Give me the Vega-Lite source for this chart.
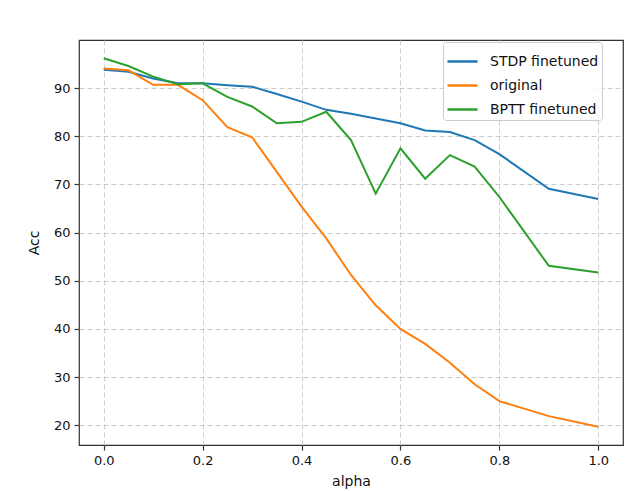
{
  "$schema": "https://vega.github.io/schema/vega-lite/v6.json",
  "autosize": "none",
  "width": 544,
  "height": 405,
  "padding": {"left": 79, "top": 40, "right": 18, "bottom": 46},
  "background": "white",
  "data": {
    "values": [
      {"alpha": 0.0, "series": "STDP finetuned", "acc": 93.8},
      {"alpha": 0.05, "series": "STDP finetuned", "acc": 93.4},
      {"alpha": 0.1, "series": "STDP finetuned", "acc": 92.0},
      {"alpha": 0.15, "series": "STDP finetuned", "acc": 91.0},
      {"alpha": 0.2, "series": "STDP finetuned", "acc": 91.0},
      {"alpha": 0.25, "series": "STDP finetuned", "acc": 90.6},
      {"alpha": 0.3, "series": "STDP finetuned", "acc": 90.3},
      {"alpha": 0.35, "series": "STDP finetuned", "acc": 88.8},
      {"alpha": 0.4, "series": "STDP finetuned", "acc": 87.2},
      {"alpha": 0.45, "series": "STDP finetuned", "acc": 85.5},
      {"alpha": 0.5, "series": "STDP finetuned", "acc": 84.7},
      {"alpha": 0.55, "series": "STDP finetuned", "acc": 83.7},
      {"alpha": 0.6, "series": "STDP finetuned", "acc": 82.7},
      {"alpha": 0.65, "series": "STDP finetuned", "acc": 81.2},
      {"alpha": 0.7, "series": "STDP finetuned", "acc": 80.9},
      {"alpha": 0.75, "series": "STDP finetuned", "acc": 79.2},
      {"alpha": 0.8, "series": "STDP finetuned", "acc": 76.3},
      {"alpha": 0.9, "series": "STDP finetuned", "acc": 69.1},
      {"alpha": 1.0, "series": "STDP finetuned", "acc": 67.0},
      {"alpha": 0.0, "series": "original", "acc": 94.1},
      {"alpha": 0.05, "series": "original", "acc": 93.7},
      {"alpha": 0.1, "series": "original", "acc": 90.7},
      {"alpha": 0.15, "series": "original", "acc": 90.7},
      {"alpha": 0.2, "series": "original", "acc": 87.5},
      {"alpha": 0.25, "series": "original", "acc": 81.9},
      {"alpha": 0.3, "series": "original", "acc": 79.8},
      {"alpha": 0.35, "series": "original", "acc": 72.6},
      {"alpha": 0.4, "series": "original", "acc": 65.4},
      {"alpha": 0.45, "series": "original", "acc": 58.8},
      {"alpha": 0.5, "series": "original", "acc": 51.2},
      {"alpha": 0.55, "series": "original", "acc": 44.9},
      {"alpha": 0.6, "series": "original", "acc": 40.0},
      {"alpha": 0.65, "series": "original", "acc": 36.9},
      {"alpha": 0.7, "series": "original", "acc": 33.0},
      {"alpha": 0.75, "series": "original", "acc": 28.5},
      {"alpha": 0.8, "series": "original", "acc": 25.0},
      {"alpha": 0.9, "series": "original", "acc": 21.9},
      {"alpha": 1.0, "series": "original", "acc": 19.7},
      {"alpha": 0.0, "series": "BPTT finetuned", "acc": 96.2},
      {"alpha": 0.05, "series": "BPTT finetuned", "acc": 94.6},
      {"alpha": 0.1, "series": "BPTT finetuned", "acc": 92.4},
      {"alpha": 0.15, "series": "BPTT finetuned", "acc": 90.8},
      {"alpha": 0.2, "series": "BPTT finetuned", "acc": 91.0},
      {"alpha": 0.25, "series": "BPTT finetuned", "acc": 88.2},
      {"alpha": 0.3, "series": "BPTT finetuned", "acc": 86.2},
      {"alpha": 0.35, "series": "BPTT finetuned", "acc": 82.7},
      {"alpha": 0.4, "series": "BPTT finetuned", "acc": 83.0},
      {"alpha": 0.45, "series": "BPTT finetuned", "acc": 85.1},
      {"alpha": 0.5, "series": "BPTT finetuned", "acc": 79.2},
      {"alpha": 0.55, "series": "BPTT finetuned", "acc": 68.1},
      {"alpha": 0.6, "series": "BPTT finetuned", "acc": 77.5},
      {"alpha": 0.65, "series": "BPTT finetuned", "acc": 71.2},
      {"alpha": 0.7, "series": "BPTT finetuned", "acc": 76.1},
      {"alpha": 0.75, "series": "BPTT finetuned", "acc": 73.7},
      {"alpha": 0.8, "series": "BPTT finetuned", "acc": 67.4},
      {"alpha": 0.9, "series": "BPTT finetuned", "acc": 53.1},
      {"alpha": 1.0, "series": "BPTT finetuned", "acc": 51.7}
    ]
  },
  "mark": {"type": "line", "strokeWidth": 2, "clip": true},
  "encoding": {
    "x": {
      "field": "alpha",
      "type": "quantitative",
      "scale": {"domain": [-0.05, 1.05], "nice": false, "zero": false},
      "axis": {
        "title": "alpha",
        "values": [0, 0.2, 0.4, 0.6, 0.8, 1.0],
        "format": ".1f",
        "titlePadding": 7
      }
    },
    "y": {
      "field": "acc",
      "type": "quantitative",
      "scale": {"domain": [15.9, 100.0], "nice": false, "zero": false},
      "axis": {
        "title": "Acc",
        "values": [20, 30, 40, 50, 60, 70, 80, 90],
        "titlePadding": 12
      }
    },
    "color": {
      "field": "series",
      "type": "nominal",
      "scale": {
        "domain": ["STDP finetuned", "original", "BPTT finetuned"],
        "range": ["#1f77b4", "#ff7f0e", "#2ca02c"]
      },
      "legend": {
        "title": null,
        "orient": "none",
        "legendX": 364,
        "legendY": 2,
        "symbolType": "stroke",
        "symbolStrokeWidth": 2.5,
        "symbolSize": 900,
        "labelFontSize": 14,
        "labelFont": "DejaVu Sans",
        "labelColor": "#111",
        "rowPadding": -7.5,
        "padding": 3,
        "fillColor": "rgba(255,255,255,0.85)",
        "strokeColor": "#cccccc",
        "cornerRadius": 3,
        "labelOffset": 11
      }
    }
  },
  "config": {
    "view": {"stroke": "#333333", "strokeWidth": 1.2},
    "axis": {
      "domain": false,
      "grid": true,
      "gridColor": "#cccccc",
      "gridDash": [5, 3],
      "gridWidth": 1,
      "ticks": true,
      "tickColor": "#333333",
      "tickSize": 5,
      "tickWidth": 1.2,
      "labelFont": "DejaVu Sans",
      "labelFontSize": 13,
      "labelColor": "#111",
      "labelPadding": 4,
      "titleFont": "DejaVu Sans",
      "titleFontSize": 14,
      "titleFontWeight": "normal",
      "titleColor": "#111"
    }
  }
}
